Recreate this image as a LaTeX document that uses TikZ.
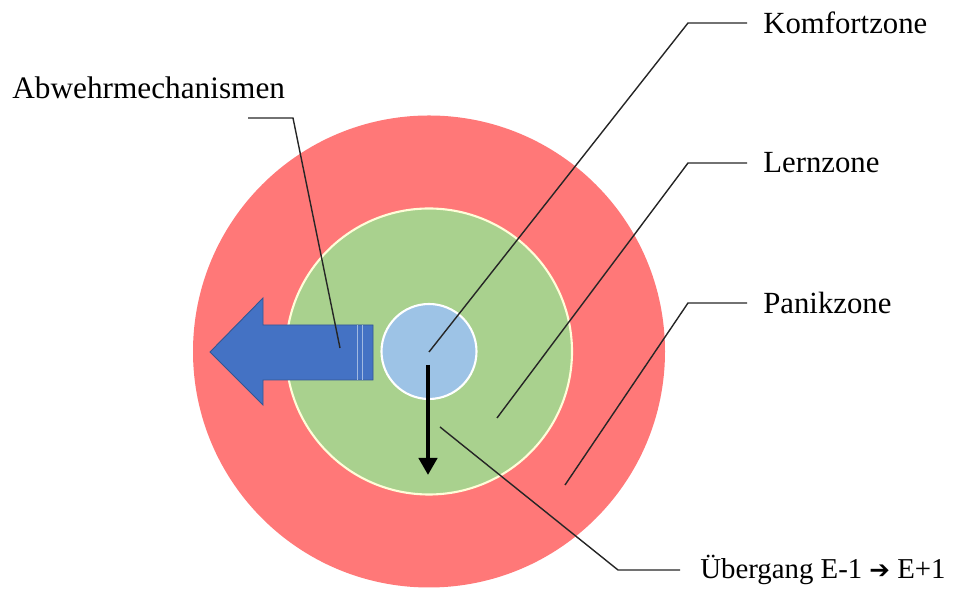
\documentclass[tikz,border=0pt]{standalone}
\usepackage{fontspec}
\setmainfont{Liberation Serif}
\newfontfamily\pfeilfont{DejaVu Sans}
\usepackage{tikz}
\usetikzlibrary{arrows.meta}

\definecolor{panikred}{HTML}{FF7878}
\definecolor{lerngreen}{HTML}{A9D18E}
\definecolor{komfortblue}{HTML}{9DC3E6}
\definecolor{pfeilblue}{HTML}{4472C4}

\tikzset{
        zonelabel/.style={anchor=west, inner xsep=0.32cm, inner ysep=0pt, font=\fontsize{17.5}{20}\selectfont},
        leader/.style={draw=black!85, line width=0.8pt}
}

\begin{document}
\begin{tikzpicture}
        \useasboundingbox (0,0) rectangle (19.16,11.84);

        \coordinate (mid) at (8.58,4.81);

        \fill[panikred] (mid) circle (4.72);
        \filldraw[fill=lerngreen, draw=white!85!yellow, line width=1.2pt] (mid) circle (2.86);
        \filldraw[fill=komfortblue, draw=white, line width=1.2pt] (mid) circle (0.95);

        \filldraw[fill=pfeilblue, draw=pfeilblue!75!black, line width=0.5pt]
                (4.20,4.80) -- (5.26,5.88) -- (5.26,5.34) -- (7.46,5.34)
                -- (7.46,4.24) -- (5.26,4.24) -- (5.26,3.74) -- cycle;
        \draw[pfeilblue!50!white, line width=0.5pt] (7.14,5.34) -- (7.14,4.24);
        \draw[pfeilblue!50!white, line width=0.5pt] (7.24,5.34) -- (7.24,4.24);

        \draw[line width=2.6pt, -{Triangle[width=0.36cm, length=0.34cm]}] (8.56,4.54) -- (8.56,2.34);

        \node[zonelabel] (kom) at (14.94,11.38) {Komfortzone};
        \node[zonelabel] (lern) at (14.94,8.58) {Lernzone};
        \node[zonelabel] (panik) at (14.94,5.78) {Panikzone};
        \node[zonelabel, inner xsep=0.4cm, font=\fontsize{16.4}{18}\selectfont] (ueber) at (13.60,0.44)
                {Übergang E-1 {\pfeilfont\fontsize{14}{16}\selectfont ➔} E+1};
        \node[anchor=west, inner sep=0pt, font=\fontsize{17.8}{20}\selectfont] (abwehr) at (0.24,10.08) {Abwehrmechanismen};

        \coordinate (komend) at (8.58,4.80);
        \coordinate (lernend) at (9.94,3.48);
        \coordinate (panikend) at (11.30,2.14);
        \coordinate (ueberend) at (8.80,3.30);
        \coordinate (abwehrend) at (6.80,4.88);

        \draw[leader] (komend) -- (13.76,11.38) -- (kom.west);
        \draw[leader] (lernend) -- (13.76,8.58) -- (lern.west);
        \draw[leader] (panikend) -- (13.76,5.78) -- (panik.west);
        \draw[leader] (ueberend) -- (12.36,0.44) -- (ueber.west);
        \draw[leader] (4.96,9.48) -- (5.86,9.48) -- (abwehrend);
\end{tikzpicture}
\end{document}
